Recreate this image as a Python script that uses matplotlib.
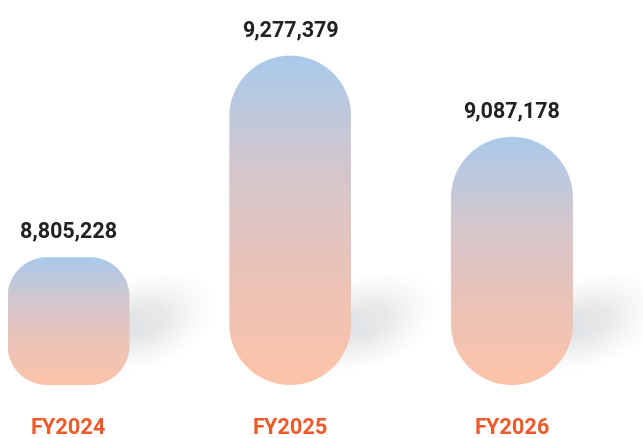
import numpy as np
import matplotlib.pyplot as plt
from matplotlib.path import Path
from matplotlib.patches import PathPatch
from matplotlib.colors import LinearSegmentedColormap

categories = ["FY2024", "FY2025", "FY2026"]
values = [8805228, 9277379, 9087178]

W, H = 643, 439
fig = plt.figure(figsize=(W / 100, H / 100), dpi=100)
ax = fig.add_axes([0, 0, 1, 1])
xlim = (-0.309, 2.591)
ylim = (8.3817e6, 9.4100e6)
base = 8.5058e6
bar_w = 0.55

px_x = W / (xlim[1] - xlim[0])
px_y = H / (ylim[1] - ylim[0])

grad = LinearSegmentedColormap.from_list(
    "pill", ["#FDC4A9", "#EBC3B8", "#D3C7CF", "#A9CAEB"])


def pill(x0, y0, w, h, rx, ry, n=40):
    t = np.linspace(0, np.pi / 2, n)
    pts = []
    corners = [(x0 + w - rx, y0 + ry, -np.pi / 2),
               (x0 + w - rx, y0 + h - ry, 0),
               (x0 + rx, y0 + h - ry, np.pi / 2),
               (x0 + rx, y0 + ry, np.pi)]
    for cx, cy, a0 in corners:
        a = a0 + t
        pts += list(zip(cx + rx * np.cos(a), cy + ry * np.sin(a)))
    pts.append(pts[0])
    return Path(pts, closed=True)


# soft shadows (pixel grid, y measured from bottom)
yy, xx = np.mgrid[0:H, 0:W] + 0.5
alpha = np.zeros((H, W))
base_px = (base - ylim[0]) * px_y
for i, v in enumerate(values):
    right_px = (i + bar_w / 2 - xlim[0]) * px_x
    cx, cy = right_px + 16, base_px + 64
    ang = np.deg2rad(20)
    u = (xx - cx) * np.cos(ang) + (yy - cy) * np.sin(ang)
    w_ = -(xx - cx) * np.sin(ang) + (yy - cy) * np.cos(ang)
    d = np.sqrt((u / 70) ** 2 + (w_ / 42) ** 2)
    a = np.clip((1.1 - d) / 0.8, 0, 1) ** 1.2
    a *= np.clip(1 - 0.4 * u / 70, 0.4, 1.3)
    alpha = np.maximum(alpha, 0.19 * a)
shadow = np.zeros((H, W, 4))
shadow[..., :3] = np.array([0x70, 0x7c, 0x86]) / 255
shadow[..., 3] = alpha
ax.imshow(shadow, extent=(xlim[0], xlim[1], ylim[0], ylim[1]),
          origin="lower", aspect="auto", zorder=1, interpolation="bilinear")

for i, v in enumerate(values):
    x0 = i - bar_w / 2
    h = v - base
    h_px = h * px_y
    r = min(bar_w * px_x / 2, 0.31 * h_px)
    path = pill(x0, base, bar_w, h, r / px_x, r / px_y)
    patch = PathPatch(path, facecolor="none", edgecolor="none",
                      transform=ax.transData)
    ax.add_patch(patch)
    im = ax.imshow(np.linspace(0, 1, 256).reshape(-1, 1), cmap=grad,
                   extent=(x0, x0 + bar_w, base, v), origin="lower",
                   aspect="auto", zorder=2)
    im.set_clip_path(patch)
    ax.annotate(f"{v:,}", (i, v), xytext=(0, 19), textcoords="offset points",
                ha="center", va="center", fontsize=15.5, fontweight="bold",
                family="Roboto", color="#222222", zorder=3)
    ax.text(i, 11 / H, categories[i], transform=ax.get_xaxis_transform(),
            ha="center", va="center", fontsize=15.7, fontweight="bold",
            family="Roboto", color="#EF5A2A")

ax.set_xlim(*xlim)
ax.set_ylim(*ylim)
ax.axis("off")
fig.savefig("out.png", dpi=100)
